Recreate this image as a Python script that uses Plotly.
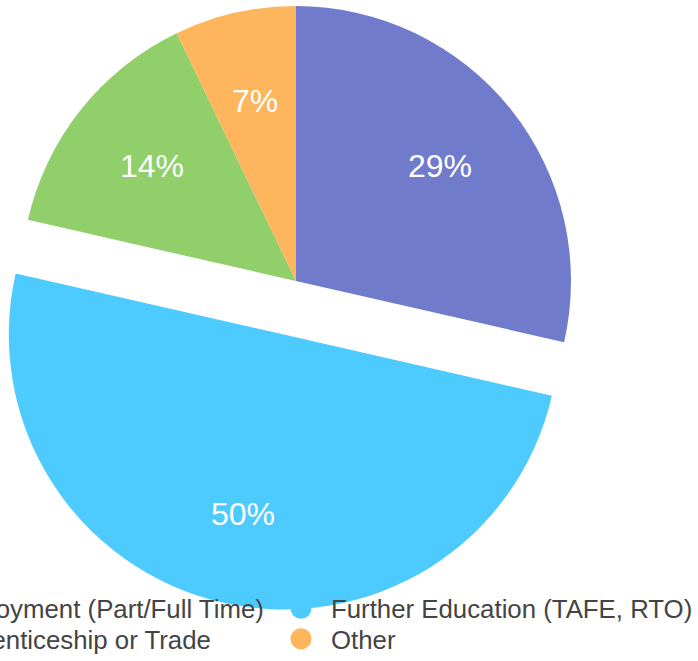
import math
import plotly.graph_objects as go

# ---- data ----
categories = [
    "Employment (Part/Full Time)",
    "Further Education (TAFE, RTO)",
    "Apprenticeship or Trade",
    "Other",
]
values = [4, 7, 2, 1]

# ---- style ----
colors = ["#717bcc", "#4dcbfe", "#90cf6a", "#feb55b"]
pulled = [False, True, False, False]
W, H = 698, 661
R = 275            # pie radius in px
CX, CY = 296, 281  # pie centre in px
PULL = 0.2         # explode distance as fraction of radius
LABEL_FRAC = 0.67  # radial position of the percentage labels
FONT = "Helvetica Neue, Helvetica, Arial, Liberation Sans, sans-serif"
TRANSPARENT = "rgba(0,0,0,0)"

total = sum(values)


def domain(cx, cy):
    return dict(x=[(cx - R) / W, (cx + R) / W],
                y=[1 - (cy + R) / H, 1 - (cy - R) / H])


fig = go.Figure()

# slice mid-angles (clockwise from 12 o'clock)
mids = []
cum = 0
for v in values:
    mids.append(math.radians((cum + v / 2) / total * 360))
    cum += v

pie_common = dict(
    labels=categories, values=values, sort=False, direction="clockwise",
    rotation=0, textinfo="none", hoverinfo="label+percent",
    showlegend=False,
)

# un-exploded slices
fig.add_trace(go.Pie(
    **pie_common,
    marker=dict(colors=[TRANSPARENT if p else c for c, p in zip(colors, pulled)],
                line=dict(width=0)),
    domain=domain(CX, CY),
))

annotations = []
for i, (v, p) in enumerate(zip(values, pulled)):
    a = mids[i]
    cx, cy = CX, CY
    if p:
        cx = CX + PULL * R * math.sin(a)
        cy = CY - PULL * R * math.cos(a)
        fig.add_trace(go.Pie(
            **pie_common,
            marker=dict(colors=[colors[j] if j == i else TRANSPARENT
                                for j in range(len(values))],
                        line=dict(width=0)),
            domain=domain(cx, cy),
        ))
    lx = cx + LABEL_FRAC * R * math.sin(a)
    ly = cy - LABEL_FRAC * R * math.cos(a)
    annotations.append(dict(
        x=lx / W, y=1 - ly / H, xref="paper", yref="paper",
        text=f"{round(100 * v / total)}%", showarrow=False,
        xanchor="center", yanchor="middle",
        font=dict(family=FONT, size=32, color="white"),
    ))

# legend: two columns x two rows, each entry its own legend box
legend_pos = [(-123, 585), (271, 585), (-123, 615.5), (271, 615.5)]
legend_layout = {}
for i, (cat, c) in enumerate(zip(categories, colors)):
    lname = "legend" if i == 0 else f"legend{i + 1}"
    fig.add_trace(go.Scatter(
        x=[None], y=[None], mode="markers", name=cat, legend=lname,
        marker=dict(color=c, size=16, symbol="circle", line=dict(color=c, width=5)),
        hoverinfo="skip",
    ))
    px, py = legend_pos[i]
    legend_layout[lname] = dict(
        x=px / W, y=1 - py / H, xanchor="left", yanchor="top",
        orientation="v", itemwidth=50, borderwidth=0,
        bgcolor=TRANSPARENT,
        font=dict(family=FONT, size=25.8, color="#444444"),
    )

fig.update_layout(
    width=W, height=H,
    margin=dict(l=0, r=0, t=0, b=0, autoexpand=False),
    paper_bgcolor="white", plot_bgcolor="white",
    xaxis=dict(visible=False), yaxis=dict(visible=False),
    annotations=annotations,
    showlegend=True,
    **legend_layout,
)

fig.write_html("out.html", config={"displayModeBar": False},
               post_script="document.body.style.margin='0';")
